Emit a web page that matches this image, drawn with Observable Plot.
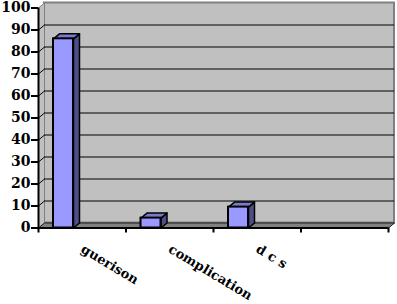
<!DOCTYPE html>
<html>
<head>
<meta charset="utf-8">
<script src="https://cdn.jsdelivr.net/npm/d3@7"></script>
<script src="https://cdn.jsdelivr.net/npm/@observablehq/plot@0.6"></script>
<style>
  html, body { margin: 0; padding: 0; background: #fff; }
  svg { display: block; background: #fff; overflow: visible; }
</style>
</head>
<body>
<div id="chart"></div>
<script>
// ---- data ----
const categories = ["guerison", "complication", "d c s", ""];
const values = [86, 4.5, 9.5];
const yTicks = [0, 10, 20, 30, 40, 50, 60, 70, 80, 90, 100];

// ---- layout ----
const W = 397, H = 304;
const mL = 38, mR = 9, mT = 7.5, mB = 76.5;
const n = categories.length;
const kx = n / (W - mL - mR);      // data units per px (x)
const ky = 100 / (H - mT - mB);    // data units per px (y)
const dX = 6 * kx, dY = 5 * ky;    // 3D depth offset
const barL = 15 * kx, barW = 20 * kx;

const font = "'DejaVu Serif', 'Liberation Serif', serif";

// polygons
function poly(id, pts) { return pts.concat([pts[0]]).map(([x, y]) => ({id, x, y})); }
const leftWall = poly("lw", [[0, 0], [0, 100], [dX, 100 + dY], [dX, dY]]);
const floor = poly("fl", [[0, 0], [n, 0], [n + dX, dY], [dX, dY]]);

const bars = values.map((v, i) => ({i, v, x1: i + barL, x2: i + barL + barW}));
const sides = bars.flatMap(b => poly("s" + b.i, [[b.x2, 0], [b.x2, b.v], [b.x2 + dX, b.v + dY], [b.x2 + dX, dY]]));
const tops = bars.flatMap(b => poly("t" + b.i, [[b.x1, b.v], [b.x2, b.v], [b.x2 + dX, b.v + dY], [b.x1 + dX, b.v + dY]]));

const inner = yTicks.filter(t => t > 0 && t < 100);
const xTickPos = d3.range(n + 1);

const chart = Plot.plot({
  width: W, height: H,
  marginLeft: mL, marginRight: mR, marginTop: mT, marginBottom: mB,
  x: {domain: [0, n], range: [mL, W - mR], axis: null},
  y: {domain: [0, 100], range: [H - mB, mT], axis: null},
  style: {background: "#fff"},
  marks: [
    // back wall
    Plot.rect([0], {x1: dX, x2: n + dX, y1: dY, y2: 100 + dY, fill: "#c0c0c0", stroke: "#808080", strokeWidth: 2}),
    // left wall
    Plot.line(leftWall, {x: "x", y: "y", z: "id", fill: "#c0c0c0", stroke: "#808080", strokeWidth: 1}),
    // gridlines on back wall
    Plot.ruleY(inner, {y: d => d + dY, x1: dX, x2: n + dX, stroke: "#000", strokeWidth: 1.2}),
    // slanted gridlines on left wall
    Plot.link(inner, {x1: 0, y1: d => d, x2: dX, y2: d => d + dY, stroke: "#000", strokeWidth: 1}),
    // floor
    Plot.line(floor, {x: "x", y: "y", z: "id", fill: "#808080", stroke: "#000", strokeWidth: 0.8}),
    // bars
    Plot.line(sides, {x: "x", y: "y", z: "id", fill: "#4d4d88", stroke: "#000", strokeWidth: 1.5}),
    Plot.line(tops, {x: "x", y: "y", z: "id", fill: "#7a7acc", stroke: "#000", strokeWidth: 1.5}),
    Plot.rect(bars, {x1: "x1", x2: "x2", y1: 0, y2: "v", fill: "#9999ff", stroke: "#000", strokeWidth: 2}),
    // front axes
    Plot.ruleX([0], {y1: 0, y2: 100, stroke: "#000", strokeWidth: 2}),
    Plot.ruleY([0], {x1: 0, x2: n, stroke: "#000", strokeWidth: 2}),
    Plot.ruleY(yTicks, {x1: -7 * kx, x2: 0, stroke: "#000", strokeWidth: 2}),
    Plot.ruleX(xTickPos, {y1: 0, y2: -5 * ky, stroke: "#000", strokeWidth: 2}),
    // labels
    Plot.text(yTicks, {x: 0, y: d => d, dx: -8, textAnchor: "end", text: d => String(d),
      fontFamily: font, fontWeight: "bold", fontSize: 14, fill: "#000"}),
    Plot.text(categories.map((c, i) => ({c, i})), {x: d => d.i + 0.5, y: 0, text: "c", dx: 0, dy: 20,
      rotate: 31, textAnchor: "start", fontFamily: font, fontWeight: "bold", fontSize: 13, fill: "#000"})
  ]
});
document.getElementById("chart").appendChild(chart);
</script>
</body>
</html>
